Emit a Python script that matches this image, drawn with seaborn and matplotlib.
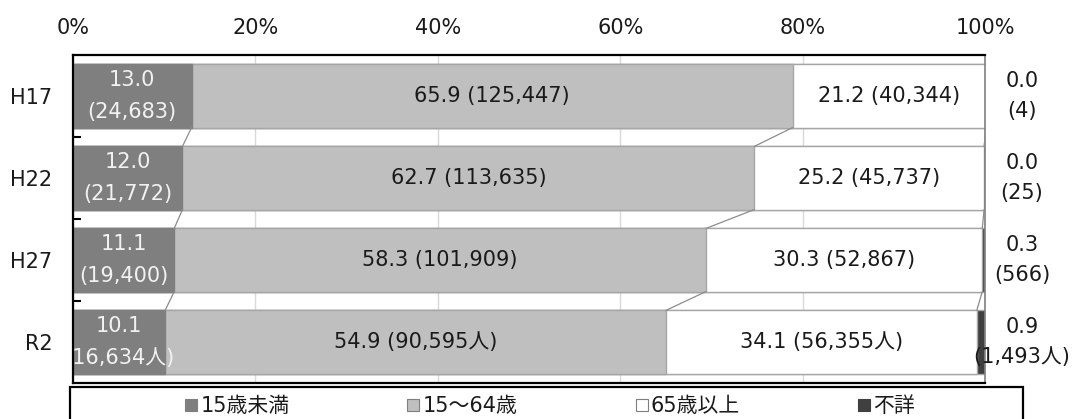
import numpy as np
import pandas as pd
import matplotlib
matplotlib.use("Agg")
import matplotlib.pyplot as plt
import seaborn as sns
from matplotlib.lines import Line2D
from matplotlib.patches import Rectangle
from matplotlib.ticker import FixedLocator

# Population composition by age group (%), with head counts
years = ["H17", "H22", "H27", "R2"]
groups = ["15歳未満", "15～64歳", "65歳以上", "不詳"]
pct_under15 = [13.0, 12.0, 11.1, 10.1]
pct_15_64 = [65.9, 62.7, 58.3, 54.9]
pct_65plus = [21.2, 25.2, 30.3, 34.1]
pct_unknown = [0.0, 0.0, 0.3, 0.9]
cnt_under15 = ["24,683", "21,772", "19,400", "16,634人"]
cnt_15_64 = ["125,447", "113,635", "101,909", "90,595人"]
cnt_65plus = ["40,344", "45,737", "52,867", "56,355人"]
cnt_unknown = ["4", "25", "566", "1,493人"]
x_ticks = [0, 20, 40, 60, 80, 100]

colors = ["#7f7f7f", "#bfbfbf", "#ffffff", "#404040"]
edge = "#a6a6a6"

sns.set_theme(style="white")
plt.rcParams["font.family"] = ["DejaVu Sans", "Noto Sans CJK JP"]
plt.rcParams["text.color"] = "#1a1a1a"
FS = 15

df = pd.DataFrame({
    "year": years,
    "p1": pct_under15, "p2": pct_15_64, "p3": pct_65plus, "p4": pct_unknown,
})
df["c1"] = df["p1"]
df["c2"] = df["c1"] + df["p2"]
df["c3"] = df["c2"] + df["p3"]
df["c4"] = df["c3"] + df["p4"]

W, H = 1080, 419
fig = plt.figure(figsize=(W / 100, H / 100), dpi=100)
ax = fig.add_axes([73 / W, 1 - 383 / H, 912 / W, 328 / H])

bar_w = 0.77
# stacked bars: draw cumulative totals from the outermost layer inward
for col, c in zip(["c4", "c3", "c2", "c1"], colors[::-1]):
    sns.barplot(data=df, x=col, y="year", orient="h", color=c, saturation=1,
                width=bar_w, edgecolor=edge if c != "#7f7f7f" else "#7f7f7f",
                linewidth=1, errorbar=None, ax=ax, zorder=2)

# series connector lines between consecutive bars
for col in ["c1", "c2", "c3"]:
    vals = df[col].tolist()
    for i in range(len(years) - 1):
        ax.plot([vals[i], vals[i + 1]], [i + bar_w / 2, i + 1 - bar_w / 2],
                color="#8c8c8c", lw=0.9, zorder=3)

ax.set_xlim(0, 100)
ax.set_ylim(len(years) - 0.5, -0.5)
ax.set_xlabel("")
ax.set_ylabel("")
ax.xaxis.tick_top()
ax.set_xticks(x_ticks)
ax.set_xticklabels([f"{t}%" for t in x_ticks], fontsize=FS, color="#1a1a1a")
ax.tick_params(axis="x", length=0, pad=12)
ax.tick_params(axis="y", which="major", length=0, pad=15, labelsize=FS,
               labelcolor="#1a1a1a")
ax.yaxis.set_minor_locator(FixedLocator([0.5, 1.5, 2.5]))
ax.tick_params(axis="y", which="minor", direction="in", length=6, width=1.5,
               color="black", left=True)
ax.set_axisbelow(True)
ax.xaxis.grid(True, color="#d9d9d9", lw=1)
ax.yaxis.grid(False)
for s in ["top", "left", "bottom"]:
    ax.spines[s].set_color("black")
    ax.spines[s].set_linewidth(1.6)
ax.spines["right"].set_color("#7f7f7f")
ax.spines["right"].set_linewidth(1.2)

# labels inside the segments
for i in range(len(years)):
    x1 = df["c1"][i] / 2
    ax.text(x1, i, f"{pct_under15[i]:.1f}\n({cnt_under15[i]})", ha="center",
            va="center", fontsize=FS, color="#f2f2f2", linespacing=1.75,
            clip_on=True, zorder=4)
    x2 = df["c1"][i] + pct_15_64[i] / 2
    ax.text(x2, i, f"{pct_15_64[i]:.1f} ({cnt_15_64[i]})", ha="center",
            va="center", fontsize=FS, color="#1a1a1a", zorder=4)
    x3 = df["c2"][i] + pct_65plus[i] / 2
    ax.text(x3, i, f"{pct_65plus[i]:.1f} ({cnt_65plus[i]})", ha="center",
            va="center", fontsize=FS, color="#1a1a1a", zorder=4)
    ax.text((1022 - 73) / 912, i, f"{pct_unknown[i]:.1f}\n({cnt_unknown[i]})",
            transform=ax.get_yaxis_transform(), ha="center", va="center",
            fontsize=FS, color="#1a1a1a", linespacing=1.6, clip_on=False)

# legend strip below the plot
fig.patches.append(Rectangle((70 / W, -0.05), (1023 - 70) / W, 0.05 + (H - 387) / H,
                             transform=fig.transFigure, fill=False,
                             edgecolor="black", lw=1.6, zorder=5))
handles = [Line2D([], [], marker="s", ls="", markersize=9, markerfacecolor=c,
                  markeredgecolor="#7f7f7f" if c in ("#ffffff", "#bfbfbf") else c,
                  markeredgewidth=0.8) for c in colors]
fig.legend(handles, groups, loc="center", bbox_to_anchor=(550 / W, 1 - 406 / H),
           ncol=4, frameon=False, fontsize=FS, handlelength=0.6,
           handletextpad=0.15, columnspacing=5.65, borderpad=0)

fig.savefig("out.png", dpi=100)
